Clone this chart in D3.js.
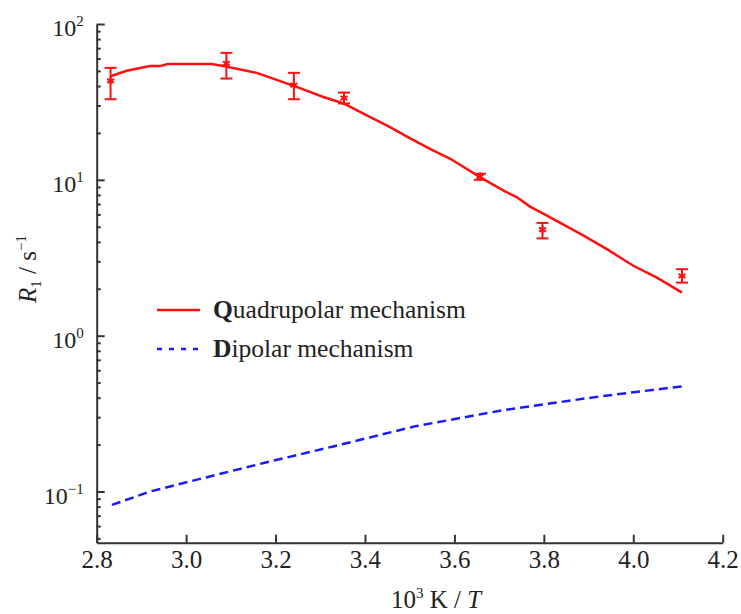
<!DOCTYPE html>
<html>
<head>
<meta charset="utf-8">
<script src="https://cdn.jsdelivr.net/npm/d3@7"></script>
<style>
  body { margin: 0; background: #fff; }
  .axis path, .axis line { stroke: #333; stroke-width: 2; }
</style>
</head>
<body>
<svg id="chart" width="741" height="614"></svg>
<script>
// measured points (error bars)
var expX = [2.831, 3.09, 3.241, 3.353, 3.657, 3.797, 4.109];
var expY = [43.2, 55.8, 40.5, 33.5, 10.5, 4.79, 2.42];
var expLo = [32.9, 44.7, 32.9, 30.9, 10.0, 4.21, 2.19];
var expHi = [52.3, 65.3, 48.6, 36.3, 10.94, 5.29, 2.67];

// quadrupolar model curve
var quadX = [2.831, 2.867, 2.919, 2.942, 2.958, 3.057, 3.083, 3.158, 3.247, 3.307, 3.352, 3.404, 3.456, 3.5, 3.553, 3.59, 3.657, 3.71, 3.74, 3.769, 3.807, 3.889, 3.941, 4.0, 4.053, 4.109];
var quadY = [46.2, 50.1, 53.7, 53.7, 55.3, 55.3, 53.7, 48.6, 39.5, 34.0, 30.9, 25.9, 21.8, 18.5, 15.4, 13.7, 10.4, 8.53, 7.72, 6.73, 5.89, 4.38, 3.59, 2.81, 2.36, 1.89];

// dipolar model curve
var dipX = [2.834, 2.919, 3.031, 3.18, 3.329, 3.512, 3.702, 3.926, 4.109];
var dipY = [0.082, 0.0999, 0.1205, 0.154, 0.1946, 0.262, 0.330, 0.408, 0.473];

var xTicks = [2.8, 3.0, 3.2, 3.4, 3.6, 3.8, 4.0, 4.2];
var yDecades = [-1, 0, 1, 2];

var serif = "'Liberation Serif', 'Times New Roman', serif";

var margin = {top: 24, left: 96.7},
    width = 626,
    height = 518.7;

var svg = d3.select("#chart");
var plot = svg.append("g")
    .attr("transform", "translate(" + margin.left + "," + margin.top + ")");

var xScale = d3.scaleLinear().domain([2.8, 4.2]).range([0, width]);
var yScale = d3.scaleLog().domain([0.04694, 100]).range([height, 0]);

// minor ticks on y
var minor = [];
[-2, -1, 0, 1].forEach(function(e) {
    for (var k = 2; k <= 9; k++) {
        var v = k * Math.pow(10, e);
        if (v >= 0.04694 && v <= 100) minor.push(v);
    }
});

plot.append("g")
    .attr("class", "axis")
    .call(d3.axisLeft(yScale).tickValues(minor).tickSizeInner(-4).tickSizeOuter(0).tickFormat(""))
    .select(".domain").remove();

plot.append("g")
    .attr("class", "axis")
    .call(d3.axisLeft(yScale)
        .tickValues(yDecades.map(function(e) { return Math.pow(10, e); }))
        .tickSizeInner(-8).tickSizeOuter(0).tickFormat(""));

// y labels with superscript exponents
yDecades.forEach(function(e) {
    var t = plot.append("text")
        .attr("x", -13)
        .attr("y", yScale(Math.pow(10, e)) + 12)
        .attr("text-anchor", "end")
        .style("font-family", serif)
        .style("font-size", "24px")
        .style("fill", "#222");
    t.append("tspan").text("10");
    t.append("tspan").attr("dy", -10).style("font-size", "15px").text(e < 0 ? "\u2212" + (-e) : e);
});

var xAxisG = plot.append("g")
    .attr("class", "axis")
    .attr("transform", "translate(0," + height + ")")
    .call(d3.axisBottom(xScale).tickValues(xTicks).tickSizeInner(-8).tickSizeOuter(0)
        .tickPadding(8).tickFormat(d3.format(".1f")));
xAxisG.selectAll("text")
    .style("font-family", serif)
    .style("font-size", "25px")
    .style("fill", "#222");

// curves
var line = d3.line()
    .x(function(d) { return xScale(d[0]); })
    .y(function(d) { return yScale(d[1]); });

plot.append("path")
    .datum(d3.zip(quadX, quadY))
    .attr("d", line)
    .attr("fill", "none")
    .attr("stroke", "#ff1010")
    .attr("stroke-width", 2.5);

plot.append("path")
    .datum(d3.zip(dipX, dipY))
    .attr("d", line)
    .attr("fill", "none")
    .attr("stroke", "#1a1aff")
    .attr("stroke-width", 2.5)
    .attr("stroke-dasharray", "9,5");

// error bars
var bars = plot.selectAll(".eb").data(d3.range(expX.length)).enter().append("g")
    .attr("class", "eb")
    .attr("stroke", "#ff1010")
    .attr("stroke-width", 2);

bars.append("line")
    .attr("x1", function(i) { return xScale(expX[i]); })
    .attr("x2", function(i) { return xScale(expX[i]); })
    .attr("y1", function(i) { return yScale(expLo[i]); })
    .attr("y2", function(i) { return yScale(expHi[i]); });
bars.append("line")
    .attr("x1", function(i) { return xScale(expX[i]) - 6; })
    .attr("x2", function(i) { return xScale(expX[i]) + 6; })
    .attr("y1", function(i) { return yScale(expLo[i]); })
    .attr("y2", function(i) { return yScale(expLo[i]); });
bars.append("line")
    .attr("x1", function(i) { return xScale(expX[i]) - 6; })
    .attr("x2", function(i) { return xScale(expX[i]) + 6; })
    .attr("y1", function(i) { return yScale(expHi[i]); })
    .attr("y2", function(i) { return yScale(expHi[i]); });
bars.append("path")
    .attr("transform", function(i) { return "translate(" + xScale(expX[i]) + "," + yScale(expY[i]) + ")"; })
    .attr("d", d3.symbol(d3.symbolAsterisk, 45))
    .attr("fill", "none");

// legend
var legend = svg.append("g").attr("transform", "translate(157,0)");
legend.append("line").attr("x1", 0).attr("x2", 43).attr("y1", 310).attr("y2", 310)
    .attr("stroke", "#ff1010").attr("stroke-width", 2.5);
legend.append("line").attr("x1", 0).attr("x2", 43).attr("y1", 349).attr("y2", 349)
    .attr("stroke", "#1a1aff").attr("stroke-width", 2.5).attr("stroke-dasharray", "5,7");

var l1 = legend.append("text").attr("x", 56).attr("y", 318)
    .style("font-family", serif).style("font-size", "25.5px").style("fill", "#222");
l1.append("tspan").style("font-weight", "bold").text("Q");
l1.append("tspan").text("uadrupolar mechanism");
var l2 = legend.append("text").attr("x", 56).attr("y", 357)
    .style("font-family", serif).style("font-size", "25.5px").style("fill", "#222");
l2.append("tspan").style("font-weight", "bold").text("D");
l2.append("tspan").text("ipolar mechanism");

// axis titles
var yl = svg.append("text")
    .attr("transform", "translate(36,269)rotate(-90)")
    .attr("text-anchor", "middle")
    .style("font-family", serif)
    .style("font-size", "25px")
    .style("fill", "#222");
yl.append("tspan").style("font-style", "italic").text("R");
yl.append("tspan").attr("dy", 5).style("font-size", "15px").text("1");
yl.append("tspan").attr("dy", -5).text(" / s");
yl.append("tspan").attr("dy", -10).style("font-size", "15px").text("\u22121");

var xl = svg.append("text")
    .attr("x", 436)
    .attr("y", 608)
    .attr("text-anchor", "middle")
    .style("font-family", serif)
    .style("font-size", "25px")
    .style("fill", "#222");
xl.append("tspan").text("10");
xl.append("tspan").attr("dy", -10).style("font-size", "15px").text("3");
xl.append("tspan").attr("dy", 10).text(" K / ");
xl.append("tspan").style("font-style", "italic").text("T");
</script>
</body>
</html>
